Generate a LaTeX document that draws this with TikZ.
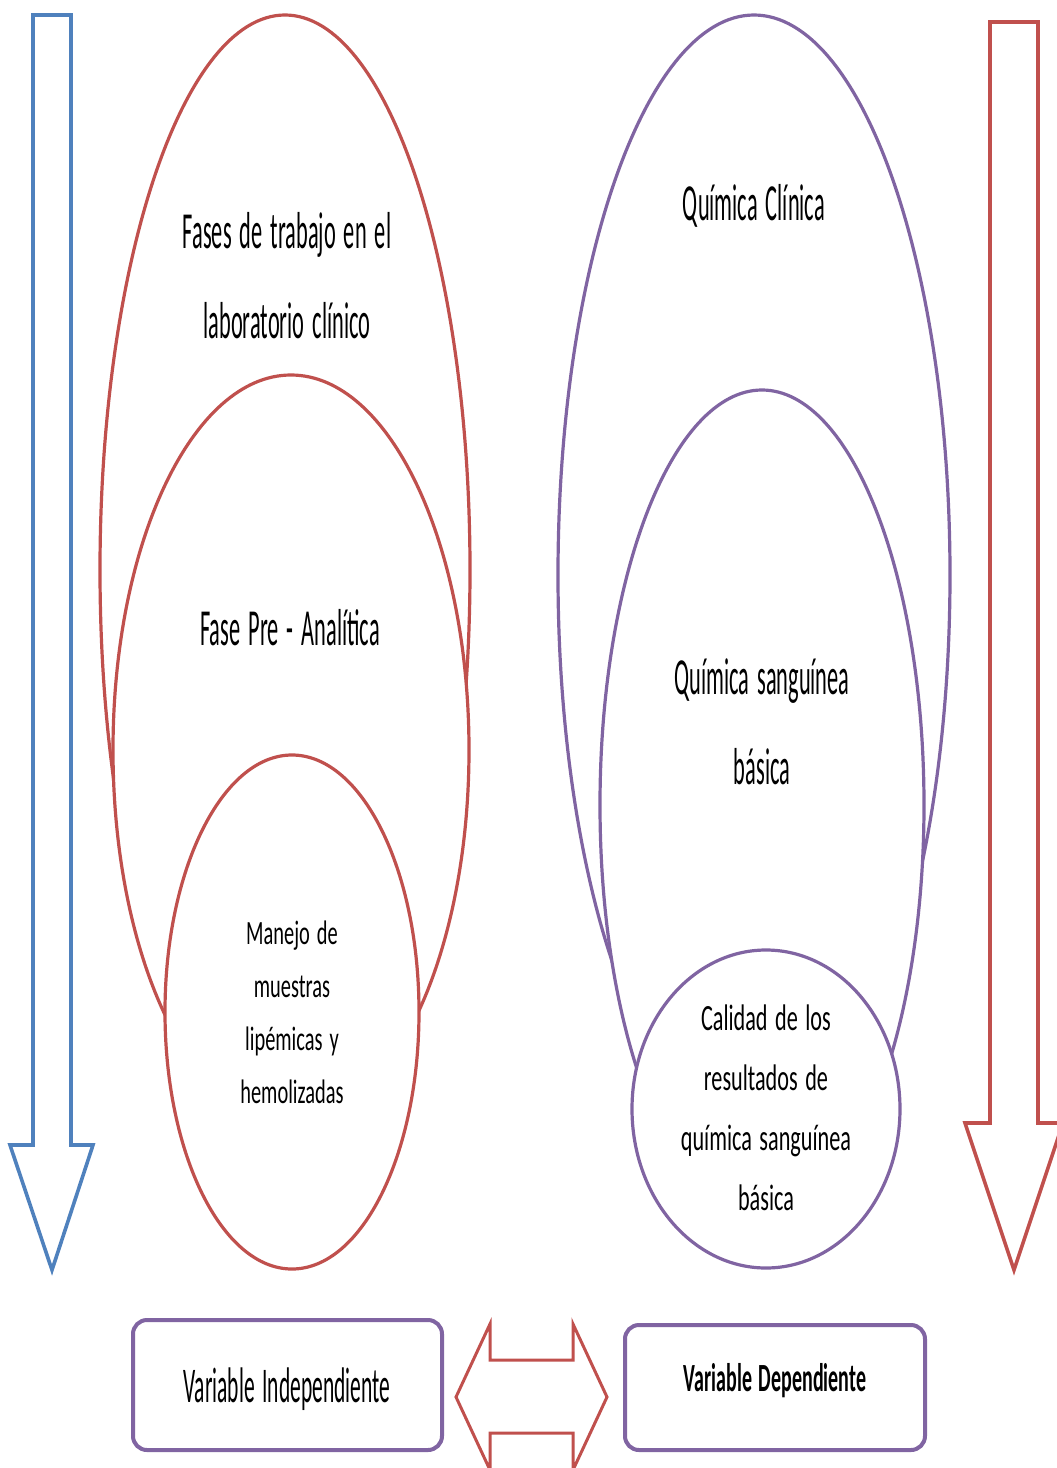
\documentclass[tikz,border=0pt]{standalone}
\usepackage{fontspec}
\setmainfont{Carlito}
\newfontfamily\tallfont{Carlito}[FakeStretch=0.43,WordSpace=1.6]
\newfontfamily\midfont{Carlito}[FakeStretch=0.6,WordSpace=1.5]
\newfontfamily\boxfont{Carlito}[FakeStretch=0.5,WordSpace=1.5]
\usepackage{tikz}
\usetikzlibrary{positioning}
\definecolor{redline}{HTML}{C0504D}
\definecolor{purpleline}{HTML}{8064A2}
\definecolor{blueline}{HTML}{4F81BD}

\begin{document}
\begin{tikzpicture}[x=0.5pt,y=-0.5pt]
		\tikzset{redring/.style = {draw=redline,line width=1.6pt,fill=white}}
		\tikzset{purplering/.style = {draw=purpleline,line width=1.6pt,fill=white}}
		\tikzset{bigtext/.style = {align=center,font=\tallfont\fontsize{26}{45}\selectfont}}
		\tikzset{smalltext/.style = {align=center,font=\midfont\fontsize{17}{26.5}\selectfont}}
		\tikzset{varbox/.style = {draw=purpleline,line width=2pt,fill=white,rounded corners=7pt}}
		\tikzset{blockarrow/.style = {line width=1.8pt,fill=white,line join=miter}}

		\useasboundingbox (0,0) rectangle (1056,1468);

		% arrows at the sides
		\draw[blockarrow,draw=blueline] (33,15) -- (71,15) -- (71,1145) -- (93,1145)
			-- (52,1270) -- (10,1145) -- (33,1145) -- cycle;
		\draw[blockarrow,draw=redline] (990,22) -- (1038,22) -- (1038,1123) -- (1063,1123)
			-- (1014,1270) -- (965,1123) -- (990,1123) -- cycle;

		% left rings
		\draw[redring] (285,570) ellipse [x radius=185, y radius=555];
		\draw[redring] (291,750) ellipse [x radius=178, y radius=375];
		\draw[redring] (292,1012) ellipse [x radius=127, y radius=257];

		\node[bigtext] (fases) at (287,276) {Fases de trabajo en el\\laboratorio clínico};
		\node[bigtext] (pre) at (290,628) {Fase Pre - Analítica};
		\node[smalltext] (manejo) at (292,1012) {Manejo de\\muestras\\lipémicas y\\hemolizadas};

		% right rings
		\draw[purplering] (754,575) ellipse [x radius=196, y radius=560];
		\draw[purplering] (762,805) ellipse [x radius=162, y radius=415];
		\draw[purplering] (766,1109) ellipse [x radius=134, y radius=159];

		\node[bigtext] (clinica) at (754,206) {Química Clínica};
		\node[bigtext] (sangre) at (762,722) {Química sanguínea\\básica};
		\node[smalltext,font=\midfont\fontsize{18.5}{30}\selectfont] (calidad) at (766,1108)
			{Calidad de los\\resultados de\\química sanguínea\\básica};

		% variables
		\draw[varbox] (133,1320) rectangle (442,1450);
		\node[font=\tallfont\fontsize{25}{30}\selectfont] (indep) at (287,1389) {Variable Independiente};
		\draw[varbox] (625,1325) rectangle (925,1450);
		\node[font=\boxfont\bfseries\fontsize{20}{22}\selectfont] (dep) at (775,1381) {Variable Dependiente};

		\draw[blockarrow,draw=redline,line width=1.5pt] (456,1397) -- (490,1324) -- (490,1360) -- (573,1360)
			-- (573,1324) -- (607,1397) -- (573,1470) -- (573,1433) -- (490,1433) -- (490,1470) -- cycle;
	\end{tikzpicture}
\end{document}
